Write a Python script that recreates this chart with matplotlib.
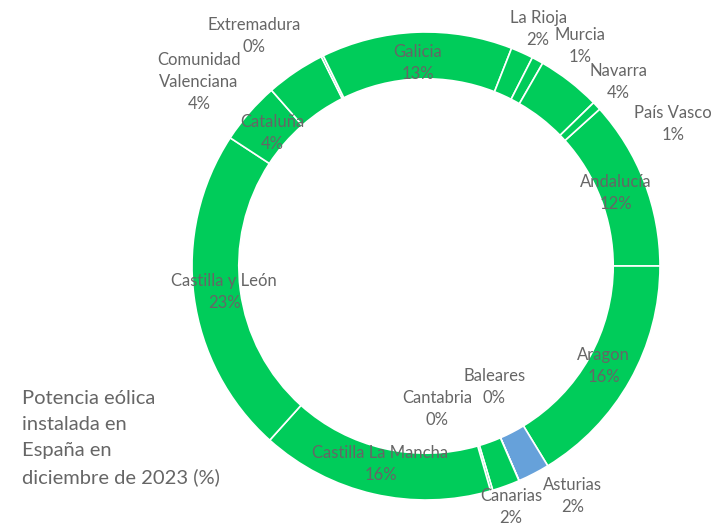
import matplotlib.pyplot as plt
import numpy as np

regions = ['Andalucía', 'Aragon', 'Asturias', 'Baleares', 'Canarias', 'Cantabria',
           'Castilla La Mancha', 'Castilla y León', 'Cataluña', 'Comunidad\nValenciana',
           'Extremadura', 'Galicia', 'La Rioja', 'Murcia', 'Navarra', 'País Vasco']
share = [11.7, 16.3, 2.2, 0.01, 1.9, 0.15, 16.1, 22.6, 4.3, 4.1,
         0.15, 13.2, 1.55, 0.8, 4.4, 0.6]

GREEN = '#00CC5A'
BLUE = '#66A1DA'
GRAY = '#666666'

# labels drawn outside the ring (data coords, ring radius = 1)
outside = {
    'Extremadura': (-0.735, 0.983),
    'Comunidad\nValenciana': (-0.970, 0.786),
    'La Rioja': (0.479, 1.013),
    'Murcia': (0.658, 0.940),
    'Navarra': (0.821, 0.786),
    'País Vasco': (1.056, 0.607),
    'Baleares': (0.291, -0.517),
    'Cantabria': (0.047, -0.611),
    'Asturias': (0.628, -0.983),
    'Canarias': (0.363, -1.030),
}

plt.rcParams['font.family'] = ['Lato', 'DejaVu Sans']

fig = plt.figure(figsize=(7.14, 5.24), dpi=100)
ax = fig.add_axes([0, 0, 1, 1])

colors = [BLUE if r == 'Asturias' else GREEN for r in regions]
wedges, _ = ax.pie(share, colors=colors, startangle=360 * share[0] / sum(share),
                   counterclock=False, radius=1.0,
                   wedgeprops=dict(width=0.2, edgecolor='white', linewidth=1.2))

for w, name, v in zip(wedges, regions, share):
    txt = f'{name}\n{v:.0f}%'
    if name in outside:
        x, y = outside[name]
    else:
        ang = np.deg2rad((w.theta1 + w.theta2) / 2)
        x, y = 0.87 * np.cos(ang), 0.87 * np.sin(ang)
    ax.text(x, y, txt, ha='center', va='center', fontsize=12, color=GRAY,
            linespacing=1.45)

ax.set_xlim((0 - 426) / 234, (714 - 426) / 234)
ax.set_ylim((266 - 524) / 234, 266 / 234)
ax.set_aspect('auto')
ax.axis('off')

fig.text(0.031, 0.255, 'Potencia eólica\ninstalada en\nEspaña en\ndiciembre de 2023 (%)',
         ha='left', va='top', fontsize=14.5, color=GRAY, linespacing=1.62)

fig.savefig('out.png', dpi=100)
